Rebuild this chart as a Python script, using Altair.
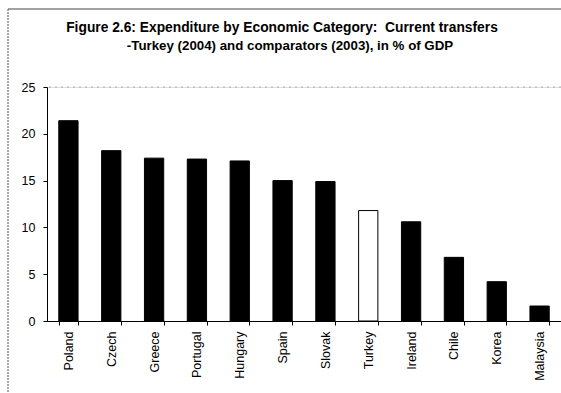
import altair as alt
import pandas as pd

countries = ["Poland", "Czech", "Greece", "Portugal", "Hungary", "Spain",
             "Slovak", "Turkey", "Ireland", "Chile", "Korea", "Malaysia"]
values = [21.4, 18.2, 17.4, 17.3, 17.1, 15.0, 14.9, 11.8, 10.6, 6.8, 4.2, 1.6]
highlight = ["no"] * 7 + ["yes"] + ["no"] * 4
title_lines = ["Figure 2.6: Expenditure by Economic Category:\u00a0\u00a0Current transfers",
               "-Turkey (2004) and comparators (2003), in % of GDP"]

df = pd.DataFrame({"country": countries, "value": values, "hl": highlight})

x = alt.X("country:N", sort=countries, title=None,
          scale=alt.Scale(paddingInner=0.55, paddingOuter=0.275),
          axis=alt.Axis(labelAngle=-90, labelFont="Liberation Sans", labelFontSize=12.5,
                        labelColor="black", tickBand="extent", tickSize=4,
                        tickColor="black", domainColor="black", labelPadding=6,
                        labelBaseline="middle", labelAlign="right"))
y = alt.Y("value:Q", title=None,
          scale=alt.Scale(domain=[0, 25], nice=False),
          axis=alt.Axis(values=[0, 5, 10, 15, 20, 25], grid=False, tickSize=4,
                        tickColor="black", domainColor="black",
                        labelFont="Liberation Sans", labelFontSize=12.5,
                        labelColor="black", labelPadding=8))

bars = alt.Chart(df).mark_bar(stroke="black", strokeWidth=1).encode(
    x=x, y=y,
    fill=alt.Fill("hl:N", scale=alt.Scale(domain=["no", "yes"], range=["black", "white"]),
                  legend=None),
)

top = alt.Chart(pd.DataFrame({"v": [25]})).mark_rule(
    color="#aaaaaa", strokeDash=[2, 4], strokeWidth=1
).encode(y="v:Q")

frame_top = alt.Chart(pd.DataFrame({"a": [0]})).mark_rule(
    color="#444444", strokeWidth=1
).encode(x=alt.value(-39), x2=alt.value(520), y=alt.value(-78))

frame_left = alt.Chart(pd.DataFrame({"a": [0]})).mark_rule(
    color="#555555", strokeWidth=1, strokeDash=[2, 1]
).encode(x=alt.value(-39), y=alt.value(-78), y2=alt.value(310))

t1 = alt.Chart(pd.DataFrame({"t": [title_lines[0]]})).mark_text(
    font="Liberation Sans", fontSize=13.8, fontWeight="bold", color="black",
    align="center", baseline="alphabetic"
).encode(text="t:N", x=alt.value(235), y=alt.value(-55))

t2 = alt.Chart(pd.DataFrame({"t": [title_lines[1]]})).mark_text(
    font="Liberation Sans", fontSize=13.3, fontWeight="bold", color="black",
    align="center", baseline="alphabetic"
).encode(text="t:N", x=alt.value(243), y=alt.value(-37))

chart = alt.layer(bars, top, frame_top, frame_left, t1, t2).properties(
    width=514, height=234,
    padding={"left": 47, "top": 87, "right": 0, "bottom": 72},
    autosize=alt.AutoSizeParams(type="none"),
).configure_view(stroke=None).configure(background="white")

chart.save("out.html", embed_options={"renderer": "svg", "actions": False})
